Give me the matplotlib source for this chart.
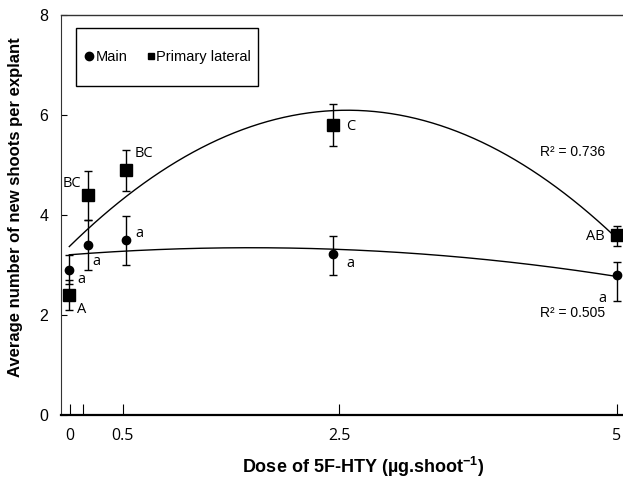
import numpy as np
import matplotlib
matplotlib.use("Agg")
import matplotlib.pyplot as plt
from matplotlib.lines import Line2D
from matplotlib.patches import Rectangle

plt.rcParams["mathtext.fontset"] = "custom"
plt.rcParams["mathtext.rm"] = "Liberation Sans"
plt.rcParams["mathtext.bf"] = "Liberation Sans:bold"

# dose positions of the points
dose = [0, 0.168, 0.518, 2.405, 5]
tick_pos = [0.006, 0.122, 0.488, 2.463, 5]
tick_lab = ["0", "", "0.5", "2.5", "5"]

main_mean = [2.90, 3.39, 3.50, 3.21, 2.79]
main_lo = [0.28, 0.50, 0.51, 0.42, 0.51]
main_hi = [0.29, 0.50, 0.47, 0.37, 0.26]
main_let = ["a", "a", "a", "a", "a"]

lat_mean = [2.39, 4.39, 4.89, 5.80, 3.59]
lat_lo = [0.30, 0.50, 0.41, 0.43, 0.21]
lat_hi = [0.30, 0.48, 0.40, 0.42, 0.18]
lat_let = ["A", "BC", "BC", "C", "AB"]

main_r2 = "R\u00b2 = 0.505"
lat_r2 = "R\u00b2 = 0.736"

# label offsets in pixels (dx, dy)
main_off = [(12, -10), (9, -16), (13, 6), (18, -9), (-14, -23)]
lat_off = [(12, -14), (-16, 12), (18, 17), (18, -2), (-22, -1)]

fig = plt.figure(figsize=(6.23, 4.83), dpi=100)
W, H = 623.0, 483.0
ax = fig.add_axes([60.7 / W, (H - 415) / H, (623.4 - 60.7) / W, (415 - 14.7) / H])
ax.set_xlim(-0.0785, 5.06)
ax.set_ylim(0, 8)

xs = np.linspace(0, 5, 200)
c_lat = np.polyfit(dose, lat_mean, 2)
c_main = np.polyfit(dose, main_mean, 2)
ax.plot(xs, np.polyval(c_lat, xs), color="black", lw=1.0, zorder=2)
ax.plot(xs, np.polyval(c_main, xs), color="black", lw=1.0, zorder=2)

ax.errorbar(dose, main_mean, yerr=[main_lo, main_hi], fmt="o", color="black",
            ms=6, elinewidth=1.0, capsize=2.6, capthick=1.0, zorder=3)
ax.errorbar(dose, lat_mean, yerr=[lat_lo, lat_hi], fmt="s", color="black",
            ms=8.5, elinewidth=1.0, capsize=2.6, capthick=1.0, zorder=3)

for x, y, t, o in zip(dose, main_mean, main_let, main_off):
    ax.annotate(t, (x, y), xytext=o, textcoords="offset pixels", ha="center",
                va="center", fontsize=10.5, family="Open Sans")
for x, y, t, o in zip(dose, lat_mean, lat_let, lat_off):
    ax.annotate(t, (x, y), xytext=o, textcoords="offset pixels", ha="center",
                va="center", fontsize=10.5, family="Open Sans")

ax.text(4.6, 5.26, lat_r2, ha="center", va="center", fontsize=10, family="Liberation Sans")
ax.text(4.6, 2.04, main_r2, ha="center", va="center", fontsize=10, family="Liberation Sans")

# legend box
ax.add_patch(Rectangle((0.0272, 0.822), 0.324, 0.144, transform=ax.transAxes,
                       fill=False, edgecolor="black", lw=1.0, zorder=4))
handles = [Line2D([], [], marker="o", ls="none", color="black", ms=6),
           Line2D([], [], marker="s", ls="none", color="black", ms=4.5)]
ax.legend(handles, ["Main", "Primary lateral"], loc="center", bbox_to_anchor=(0.191, 0.894),
          ncol=2, frameon=False, handlelength=0.6, handletextpad=0.1, columnspacing=1.3,
          prop={"family": "Liberation Sans", "size": 10.5})

ax.spines["right"].set_visible(False)
ax.spines["top"].set_linewidth(1.0)
ax.spines["top"].set_color("#333333")
ax.spines["left"].set_linewidth(0.8)
ax.spines["left"].set_color("#333333")
ax.spines["bottom"].set_linewidth(1.6)

ax.set_yticks([0, 2, 4, 6, 8])
ax.tick_params(axis="y", direction="in", length=4, width=0.8, pad=9, labelsize=11.5)
for lab in ax.get_yticklabels():
    lab.set_family("Liberation Sans")
ax.set_xticks(tick_pos)
ax.set_xticklabels(tick_lab)
ax.tick_params(axis="x", direction="in", length=8, width=0.8, pad=9, labelsize=11.5)
for lab in ax.get_xticklabels():
    lab.set_family("Open Sans")

fig.text(16 / W, 1 - 207 / H, "Average number of new shoots per explant", rotation=90,
         ha="center", va="center", fontsize=12, fontweight="bold", family="Liberation Sans")
fig.text(363 / W, 1 - 467 / H, "Dose of 5F-HTY (\u00b5g.shoot$^{\\mathbf{-1}}$)",
         ha="center", va="center", fontsize=13, fontweight="bold", family="Liberation Sans")

fig.savefig("out.png", dpi=100)
